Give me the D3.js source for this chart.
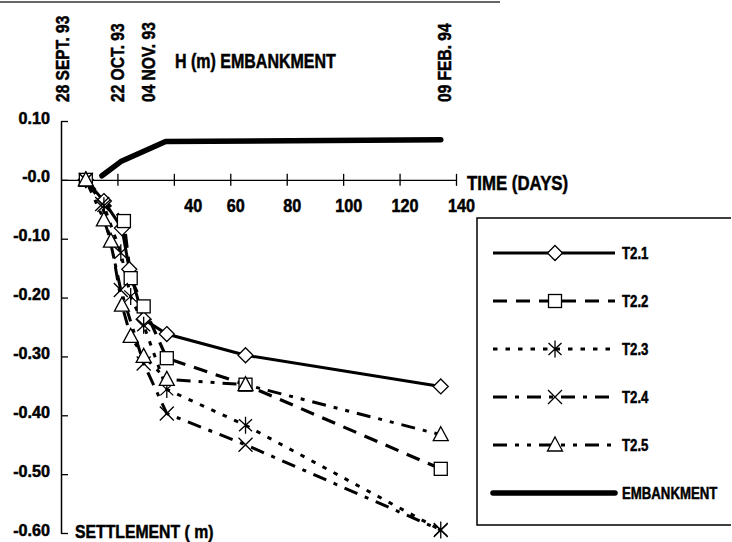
<!DOCTYPE html>
<html>
<head>
<meta charset="utf-8">
<script src="https://cdnjs.cloudflare.com/ajax/libs/d3/7.8.5/d3.min.js"></script>
<style>
  body { margin: 0; background: #fff; }
  svg { display: block; }
  text { font-family: 'Liberation Sans', Arial, sans-serif; font-weight: bold; fill: #000; stroke: #000; stroke-width: 0.5px; }
</style>
</head>
<body>
<script>
// settlement readings, [day, settlement (m)], day 0 = 28 Sept 93
let t21 = [[8.8, 0], [15.2, -0.036], [21.6, -0.082], [24.2, -0.152], [29.3, -0.237], [37.5, -0.262], [65.4, -0.298], [134.6, -0.351]];
let t22 = [[8.8, 0], [22.3, -0.070], [24.7, -0.167], [29.3, -0.215], [37.5, -0.303], [65.4, -0.348], [134.6, -0.491]];
let t23 = [[8.8, 0], [15.2, -0.044], [21.2, -0.124], [24.7, -0.198], [29.3, -0.247], [37.5, -0.356], [65.4, -0.417], [134.6, -0.595]];
let t24 = [[8.8, 0], [14.6, -0.041], [21.2, -0.187], [29.3, -0.312], [37.5, -0.397], [65.4, -0.450], [134.6, -0.595]];
let t25 = [[8.8, 0], [15.2, -0.068], [17.7, -0.104], [21.6, -0.213], [24.7, -0.266], [29.3, -0.300], [37.5, -0.339], [65.4, -0.348], [134.6, -0.433]];
// embankment height, drawn on the same scale
let embankment = [[14.5, 0.007], [21.2, 0.031], [37.1, 0.065], [134.6, 0.068]];

let xTicks = [20, 40, 60, 80, 100, 120, 140];
let xTickLabels = ["", "40", "60", "80", "100", "120", "140"];
let yTicks = [0.1, 0, -0.1, -0.2, -0.3, -0.4, -0.5, -0.6];
let yTickLabels = ["0.10", "-0.0", "-0.10", "-0.20", "-0.30", "-0.40", "-0.50", "-0.60"];
let dateLabels = ["28 SEPT. 93", "22 OCT. 93", "04 NOV. 93", "09 FEB. 94"];
let dateDays = [0, 24, 37, 134.6];

let series = [
    {name: "T2.1", data: t21, dash: null, width: 3, marker: "diamond"},
    {name: "T2.2", data: t22, dash: "14,9", width: 3.2, marker: "square"},
    {name: "T2.3", data: t23, dash: "4.5,8", width: 3, marker: "asterisk"},
    {name: "T2.4", data: t24, dash: "14,8,4,8", width: 3, marker: "cross"},
    {name: "T2.5", data: t25, dash: "14,8,4,8,4,8", width: 3, marker: "triangle"}
];

let width = 732, height = 542;

// squeeze text horizontally, the original uses a heavy condensed face
function condense(sel, k) {
    sel.each(function() {
        let w = this.getComputedTextLength();
        d3.select(this)
            .attr("textLength", w * k)
            .attr("lengthAdjust", "spacingAndGlyphs");
    });
}

let svg = d3.select("body").append("svg")
    .attr("width", width)
    .attr("height", height);

// scanned page edge at the top
svg.append("line")
    .attr("x1", 0).attr("x2", 500)
    .attr("y1", 2).attr("y2", 2)
    .attr("stroke", "#333")
    .attr("stroke-width", 1.5);

let x = d3.scaleLinear().domain([0, 140]).range([61, 456]);
let y = d3.scaleLinear().domain([-0.6, 0.1]).range([533, 121]);

// y axis, ticks pointing right
let yAxis = d3.axisLeft(y)
    .tickValues(yTicks)
    .tickFormat((d, i) => yTickLabels[i])
    .tickSizeInner(-7)
    .tickSizeOuter(0)
    .tickPadding(11);

svg.append("g")
    .attr("class", "yAxis")
    .attr("transform", "translate(61,0)")
    .call(yAxis)
    .call(g => g.attr("font-family", null).attr("font-size", null))
    .call(g => g.select(".domain").attr("stroke-width", 1.5))
    .call(g => g.selectAll("line").attr("stroke-width", 1.3))
    .selectAll("text")
    .style("font-size", "17px")
    .attr("dy", "0.12em")
    .call(condense, 0.95);

// x axis along settlement 0
let xAxis = d3.axisBottom(x)
    .tickValues(xTicks)
    .tickFormat((d, i) => xTickLabels[i])
    .tickSizeOuter(0);

let xLabelNudge = {40: 19};

svg.append("g")
    .attr("class", "xAxis")
    .attr("transform", "translate(0," + y(0) + ")")
    .call(xAxis)
    .call(g => g.attr("font-family", null).attr("font-size", null))
    .call(g => g.select(".domain").attr("stroke-width", 1.3))
    .call(g => g.selectAll("line").attr("y1", -6).attr("y2", 6).attr("stroke-width", 1.3))
    .selectAll("text")
    .style("font-size", "18px")
    .attr("y", 32)
    .attr("dy", 0)
    .attr("dx", d => xLabelNudge[d] || 5)
    .call(condense, 0.9);

// rotated date labels
let dateNudge = [8, -5, -10, 10];
svg.selectAll(".date")
    .data(dateLabels)
    .enter().append("text")
    .attr("class", "date")
    .attr("transform", (d, i) => "translate(" + (x(dateDays[i]) + dateNudge[i]) + ",102) rotate(-90)")
    .style("font-size", "18.5px")
    .text(d => d)
    .call(condense, 0.84);

svg.append("text")
    .attr("x", 175).attr("y", 68)
    .style("font-size", "19.5px")
    .text("H (m) EMBANKMENT")
    .call(condense, 0.82);

svg.append("text")
    .attr("x", 467).attr("y", 190)
    .style("font-size", "20.5px")
    .text("TIME (DAYS)")
    .call(condense, 0.82);

svg.append("text")
    .attr("x", 75).attr("y", 538)
    .style("font-size", "19px")
    .text("SETTLEMENT ( m)")
    .call(condense, 0.83);

let line = d3.line().x(d => x(d[0])).y(d => y(d[1]));

svg.append("path")
    .datum(embankment)
    .attr("d", line)
    .attr("fill", "none")
    .attr("stroke", "#000")
    .attr("stroke-width", 5.5)
    .attr("stroke-linecap", "round")
    .attr("stroke-linejoin", "round");

series.forEach(s => {
    svg.append("path")
        .datum(s.data)
        .attr("d", line)
        .attr("fill", "none")
        .attr("stroke", "#000")
        .attr("stroke-width", s.width)
        .attr("stroke-dasharray", s.dash);
});

function drawMarker(g, type) {
    let st = {fill: "#fff", stroke: "#000", "stroke-width": 1.3};
    let p;
    if (type == "diamond") {
        p = g.append("path").attr("d", "M0,-7.5L7.5,0L0,7.5L-7.5,0Z");
    } else if (type == "square") {
        p = g.append("rect").attr("x", -6.5).attr("y", -6.5).attr("width", 13).attr("height", 13);
    } else if (type == "triangle") {
        p = g.append("path").attr("d", "M0,-8L7.5,6L-7.5,6Z");
    } else if (type == "cross") {
        p = g.append("path").attr("d", "M-7,-7L7,7M-7,7L7,-7");
        st.fill = "none";
    } else {
        p = g.append("path").attr("d", "M-6.5,-6L6.5,6M-6.5,6L6.5,-6M0,-8.5L0,8.5");
        st.fill = "none";
    }
    Object.keys(st).forEach(k => p.attr(k, st[k]));
}

series.forEach(s => {
    svg.selectAll(".m-" + s.marker)
        .data(s.data)
        .enter().append("g")
        .attr("class", "m-" + s.marker)
        .attr("transform", d => "translate(" + x(d[0]) + "," + y(d[1]) + ")")
        .each(function() { drawMarker(d3.select(this), s.marker); });
});

// legend, its right side runs off the page
let legend = svg.append("g").attr("transform", "translate(477,218)");
legend.append("path")
    .attr("d", "M254,0H0V307H254")
    .attr("fill", "none")
    .attr("stroke", "#000")
    .attr("stroke-width", 1.5);

let legendItems = series.concat([{name: "EMBANKMENT", dash: null, width: 5.5, marker: null}]);
let row = legend.selectAll(".row")
    .data(legendItems)
    .enter().append("g")
    .attr("class", "row")
    .attr("transform", (d, i) => "translate(0," + (35 + i * 48) + ")");

row.append("line")
    .attr("x1", 16).attr("x2", 138)
    .attr("stroke", "#000")
    .attr("stroke-width", d => d.width)
    .attr("stroke-linecap", d => d.marker ? "butt" : "round")
    .attr("stroke-dasharray", d => d.dash);

row.filter(d => d.marker)
    .append("g")
    .attr("transform", "translate(78,0)")
    .each(function(d) { drawMarker(d3.select(this), d.marker); });

row.append("text")
    .attr("transform", "translate(145,6) scale(0.8,1)")
    .style("font-size", "16.5px")
    .text(d => d.name);
</script>
</body>
</html>
